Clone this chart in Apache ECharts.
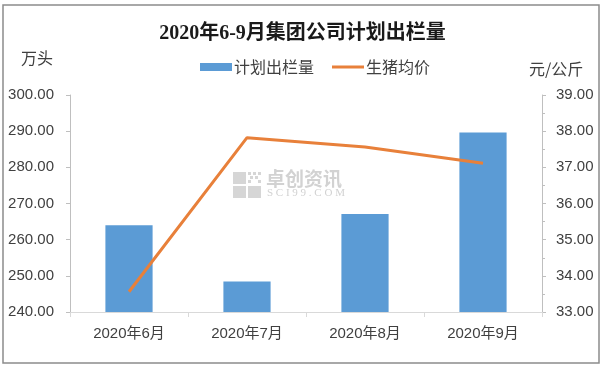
<!DOCTYPE html>
<html>
<head>
<meta charset="utf-8">
<script src="https://cdn.jsdelivr.net/npm/echarts@6/dist/echarts.min.js"></script>
<style>
html,body{margin:0;padding:0;background:#fff;}
#c{width:605px;height:370px;}
</style>
</head>
<body>
<div id="c"></div>
<script>
const categories = ['2020年6月', '2020年7月', '2020年8月', '2020年9月'];
const plannedSales = [264.0, 248.4, 267.1, 289.6];
const hogPrice = [33.56, 37.82, 37.56, 37.11];
const leftTicks = { min: 240, max: 300, interval: 10 };
const rightTicks = { min: 33, max: 39, interval: 1 };
const titleText = '2020年6-9月集团公司计划出栏量';
const seriesNames = ['计划出栏量', '生猪均价'];
const leftUnit = '万头';
const rightUnit = '元/公斤';

const chart = echarts.init(document.getElementById('c'), null, { renderer: 'canvas' });
const labelFont = '"Liberation Sans", "Noto Sans CJK SC", sans-serif';
const cjkFont = '"Noto Sans CJK SC", sans-serif';

chart.setOption({
  backgroundColor: '#fff',
  animation: false,
  title: {
    text: titleText,
    left: 'center',
    top: 19,
    textStyle: {
      fontFamily: '"Liberation Serif", "Noto Sans CJK SC", serif',
      fontSize: 20,
      fontWeight: 'bold',
      color: '#1a1a1a'
    }
  },
  legend: {
    left: 195,
    top: 54,
    itemWidth: 32,
    itemHeight: 8,
    itemGap: 18,
    textStyle: { fontFamily: cjkFont, fontSize: 16, color: '#404040', padding: [0, 0, 0, -3] },
    data: [
      { name: seriesNames[0], icon: 'rect' },
      { name: seriesNames[1], icon: 'path://M0,0L32,0L32,3L0,3Z' }
    ]
  },
  grid: { left: 70, right: 63, top: 95, bottom: 58, containLabel: false },
  xAxis: {
    type: 'category',
    data: categories,
    boundaryGap: true,
    axisLine: { lineStyle: { color: '#d9d9d9', width: 1 } },
    axisTick: { show: true, length: 5, lineStyle: { color: '#d9d9d9' } },
    axisLabel: { fontFamily: labelFont, fontSize: 15, color: '#404040', margin: 14 }
  },
  yAxis: [
    {
      type: 'value',
      min: leftTicks.min, max: leftTicks.max, interval: leftTicks.interval,
      axisLine: { show: true, lineStyle: { color: '#bfbfbf' } },
      axisTick: { show: true, length: 4, lineStyle: { color: '#bfbfbf' } },
      splitLine: { show: false },
      axisLabel: { fontFamily: labelFont, fontSize: 15, color: '#404040', margin: 16,
        formatter: v => v.toFixed(2) }
    },
    {
      type: 'value',
      position: 'right',
      min: rightTicks.min, max: rightTicks.max, interval: rightTicks.interval,
      axisLine: { show: true, lineStyle: { color: '#bfbfbf' } },
      axisTick: { show: true, length: 4, lineStyle: { color: '#bfbfbf' } },
      minorTick: { show: true, splitNumber: 2, length: 3, lineStyle: { color: '#bfbfbf' } },
      splitLine: { show: false },
      axisLabel: { fontFamily: labelFont, fontSize: 15, color: '#404040', margin: 14,
        formatter: v => v.toFixed(2) }
    }
  ],
  series: [
    {
      name: seriesNames[0],
      type: 'bar',
      yAxisIndex: 0,
      data: plannedSales,
      barWidth: '40%',
      itemStyle: { color: '#5B9BD5' },
      z: 2
    },
    {
      name: seriesNames[1],
      type: 'line',
      yAxisIndex: 1,
      data: hogPrice,
      symbol: 'none',
      lineStyle: { color: '#E8803A', width: 3 },
      itemStyle: { color: '#E8803A' },
      z: 3
    }
  ],
  graphic: [
    { type: 'rect', shape: { x: 3, y: 5, width: 596, height: 358 },
      style: { fill: 'none', stroke: '#8c8c8c', lineWidth: 1.5 }, silent: true, z: 100 },
    { type: 'text', left: 21, top: 50,
      style: { text: leftUnit, fontFamily: cjkFont, fontSize: 16, fill: '#404040' } },
    { type: 'text', left: 529, top: 61,
      style: { text: rightUnit, fontFamily: cjkFont, fontSize: 16, fill: '#404040' } },
    // watermark
    { type: 'group', left: 233, top: 169, silent: true, z: 1, children: [
      { type: 'rect', shape: { x: 0, y: 0, width: 13, height: 12 }, style: { fill: '#d6d6d6' } },
      { type: 'rect', shape: { x: 0, y: 14, width: 13, height: 12 }, style: { fill: '#d6d6d6' } },
      { type: 'rect', shape: { x: 15, y: 14, width: 13, height: 12 }, style: { fill: '#d6d6d6' } },
      { type: 'rect', shape: { x: 15, y: 0, width: 3, height: 3 }, style: { fill: '#d6d6d6' } },
      { type: 'rect', shape: { x: 20, y: 0, width: 3, height: 3 }, style: { fill: '#d6d6d6' } },
      { type: 'rect', shape: { x: 25, y: 0, width: 3, height: 3 }, style: { fill: '#d6d6d6' } },
      { type: 'rect', shape: { x: 17, y: 4, width: 3, height: 3 }, style: { fill: '#d6d6d6' } },
      { type: 'rect', shape: { x: 22, y: 4, width: 3, height: 3 }, style: { fill: '#d6d6d6' } },
      { type: 'rect', shape: { x: 15, y: 8, width: 3, height: 3 }, style: { fill: '#d6d6d6' } },
      { type: 'rect', shape: { x: 25, y: 8, width: 3, height: 3 }, style: { fill: '#d6d6d6' } },
      { type: 'text', x: 33, y: -3, style: { text: '卓创资讯', fontFamily: cjkFont, fontSize: 19, fontWeight: 'bold', fill: '#d2d2d2' } },
      { type: 'text', x: 34, y: 16, style: { text: 'S C I 9 9 . C O M', fontFamily: '"Liberation Serif", serif', fontSize: 11, fill: '#d2d2d2' } }
    ] }
  ]
});
</script>
</body>
</html>
